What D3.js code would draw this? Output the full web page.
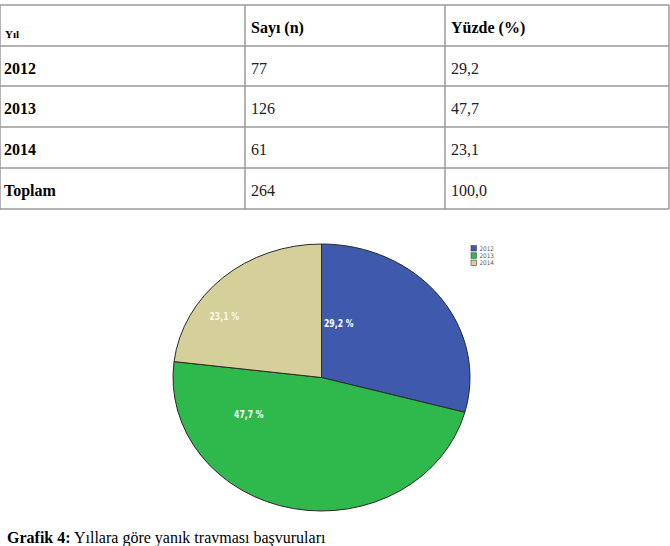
<!DOCTYPE html>
<html>
<head>
<meta charset="utf-8">
<script src="https://cdn.jsdelivr.net/npm/d3@7"></script>
<style>
  body { margin: 0; background: #fff; }
  svg { display: block; }
</style>
</head>
<body>
<div id="chart"></div>
<script>
const years = ["2012", "2013", "2014"];
const counts = [77, 126, 61];
const percents = [29.2, 47.7, 23.1];
const headers = ["Yıl", "Sayı (n)", "Yüzde (%)"];
const totalLabel = "Toplam";
const colors = ["#3f59ac", "#2fb84b", "#d5cf9a"];

const W = 670, H = 546;
const fmt = v => d3.format(".1f")(v).replace(".", ",");
const serif = "'Liberation Serif', 'Times New Roman', Times, serif";

const svg = d3.select("#chart").append("svg")
    .attr("width", W)
    .attr("height", H);

// ---- table ----
const colX = [0, 245, 445, 669];
const rowY = [5, 46, 86, 127, 168, 209];
const rows = years.map((y, i) => [y, String(counts[i]), fmt(percents[i])]);
rows.push([totalLabel, String(d3.sum(counts)), fmt(d3.sum(percents))]);

const table = svg.append("g");

table.selectAll(".hline")
  .data(rowY)
  .enter().append("line")
    .attr("x1", colX[0]).attr("x2", colX[3])
    .attr("y1", d => d).attr("y2", d => d)
    .attr("stroke", "#9a9a9a")
    .attr("stroke-width", 1.5);

table.selectAll(".vline")
  .data(colX)
  .enter().append("line")
    .attr("x1", d => d).attr("x2", d => d)
    .attr("y1", rowY[0]).attr("y2", rowY[rowY.length - 1])
    .attr("stroke", "#9a9a9a")
    .attr("stroke-width", 1.5);

// header
table.selectAll(".hdr")
  .data(headers)
  .enter().append("text")
    .attr("x", (d, i) => colX[i] + (i === 0 ? 5 : 6))
    .attr("y", (d, i) => i === 0 ? 37.5 : 33)
    .attr("font-family", serif)
    .attr("font-weight", "bold")
    .attr("font-size", (d, i) => i === 0 ? 11 : 16)
    .text(d => d);

// body rows
rows.forEach((r, ri) => {
  table.selectAll(".cell" + ri)
    .data(r)
    .enter().append("text")
      .attr("x", (d, i) => colX[i] + (i === 0 ? 4 : 6))
      .attr("y", rowY[ri + 1] + 28)
      .attr("font-family", serif)
      .attr("font-weight", (d, i) => i === 0 ? "bold" : "normal")
      .attr("font-size", 16)
      .attr("fill", (d, i) => i === 0 ? "#000" : "#222")
      .text(d => d);
});

// ---- pie (drawn as a circle, squashed to an ellipse) ----
const cx = 321.5, cy = 377.5, rx = 148.5, ry = 133.5;
const R = 100;

const pie = d3.pie().sort(null).value(d => d);
const arcs = pie(percents);
const arc = d3.arc().innerRadius(0).outerRadius(R);

const pg = svg.append("g")
    .attr("transform", `translate(${cx},${cy}) scale(${rx / R},${ry / R})`);

pg.selectAll("path")
  .data(arcs)
  .enter().append("path")
    .attr("d", arc)
    .attr("fill", (d, i) => colors[i])
    .attr("stroke", "#2a2a2a")
    .attr("stroke-width", 1)
    .attr("vector-effect", "non-scaling-stroke");

// label placement inside each slice: angle (deg) and radius fraction
const labelAt = [[16, 0.42], [241, 0.56], [305, 0.80]];
svg.append("g").selectAll("text")
  .data(arcs)
  .enter().append("text")
    .attr("transform", (d, i) => {
      const a = labelAt[i][0] * Math.PI / 180, f = labelAt[i][1];
      return `translate(${cx + rx * f * Math.sin(a)},${cy - ry * f * Math.cos(a)}) scale(0.78,1)`;
    })
    .attr("dy", "0.35em")
    .attr("text-anchor", "middle")
    .attr("font-family", "'DejaVu Sans Condensed', 'Liberation Sans', sans-serif")
    .attr("font-weight", "bold")
    .attr("font-size", 11)
    .attr("fill", (d, i) => i === 2 ? "#fbf8e6" : "#fff")
    .text(d => fmt(d.data) + " %");

// legend
const lg = svg.append("g").attr("transform", "translate(471,245.5)");
const li = lg.selectAll("g")
  .data(years)
  .enter().append("g")
    .attr("transform", (d, i) => `translate(0,${i * 7.3})`);
li.append("rect")
    .attr("width", 5.5).attr("height", 5.5)
    .attr("fill", (d, i) => colors[i])
    .attr("stroke", "#444")
    .attr("stroke-width", 0.6);
li.append("text")
    .attr("x", 8.5).attr("y", 5.3)
    .attr("font-family", "'DejaVu Sans Condensed', sans-serif")
    .attr("font-size", 6.3)
    .attr("fill", "#555")
    .text(d => d);

// caption
const cap = svg.append("text")
    .attr("x", 7).attr("y", 543)
    .attr("font-family", serif)
    .attr("font-size", 16);
cap.append("tspan").attr("font-weight", "bold").text("Grafik 4:");
cap.append("tspan").text(" Yıllara göre yanık travması başvuruları");
</script>
</body>
</html>
